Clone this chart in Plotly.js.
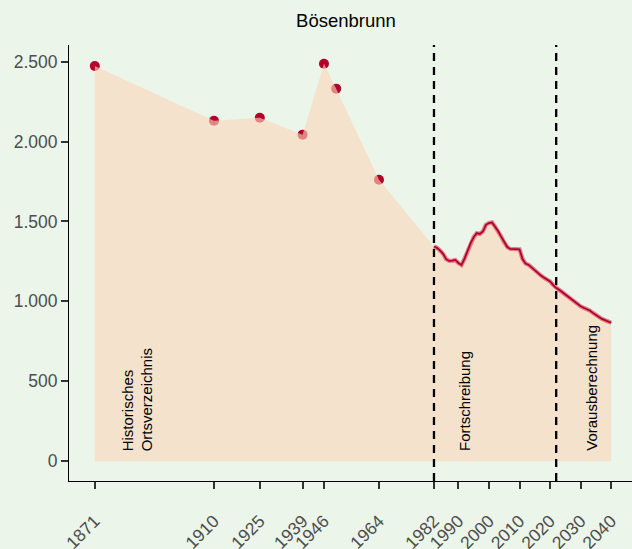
<!DOCTYPE html>
<html>
<head>
<meta charset="utf-8">
<script src="https://cdn.plot.ly/plotly-3.0.1.min.js"></script>
<style>html,body{margin:0;padding:0;overflow:hidden;background:#EBF5EA;}</style>
</head>
<body>
<div id="chart" style="width:640px;height:549px;"></div>
<script>
// Historical census points
const histYears = [1871, 1910, 1925, 1939, 1946, 1950, 1964];
const histValues = [2473, 2130, 2149, 2043, 2487, 2331, 1761];

// Annual series (Fortschreibung + Vorausberechnung)
const lineYears = [1982,1983,1984,1985,1986,1987,1988,1989,1990,1991,1992,1993,1994,1995,1996,1997,1998,1999,2000,2001,2002,2003,2004,2005,2006,2007,2008,2009,2010,2011,2012,2013,2014,2015,2016,2017,2018,2019,2020,2021,2022,2023,2024,2025,2026,2027,2028,2029,2030,2031,2032,2033,2034,2035,2036,2037,2038,2039,2040];
const lineValues = [1343,1335,1318,1297,1264,1253,1255,1259,1240,1228,1268,1318,1364,1402,1427,1422,1437,1479,1490,1494,1468,1440,1405,1368,1340,1328,1327,1327,1326,1265,1236,1228,1210,1190,1178,1162,1148,1136,1125,1103,1083,1072,1057,1042,1027,1011,995,985,969,960,952,943,928,913,902,890,882,874,866];

// Axis ticks
const tickYears = [1871, 1910, 1925, 1939, 1946, 1964, 1982, 1990, 2000, 2010, 2020, 2030, 2040];
const tickLabels = tickYears.map(String);
const yTicks = [0, 500, 1000, 1500, 2000, 2500];

// Period boundaries and labels
const boundaries = [1982, 2022];
const periodLabels = ["Historisches<br>Ortsverzeichnis", "Fortschreibung", "Vorausberechnung"];
const periodLabelX = [1884.8, 1992.2, 2033.7];

const red = '#B3002A';
const font = 'Liberation Sans, Arial, sans-serif';

const traces = [
  {x: histYears, y: histValues, type: 'scatter', mode: 'markers',
   marker: {color: red, size: 10}, hoverinfo: 'skip', showlegend: false},
  {x: histYears.concat(lineYears), y: histValues.concat(lineValues), type: 'scatter', mode: 'lines',
   fill: 'tozeroy', fillcolor: 'rgba(252,215,185,0.62)', line: {width: 0, color: 'rgba(0,0,0,0)'},
   hoverinfo: 'skip', showlegend: false},
  {x: lineYears, y: lineValues, type: 'scatter', mode: 'lines',
   line: {color: 'rgba(205,40,70,0.55)', width: 4.2}, hoverinfo: 'skip', showlegend: false},
  {x: lineYears, y: lineValues, type: 'scatter', mode: 'lines',
   line: {color: red, width: 1.8}, hoverinfo: 'skip', showlegend: false}
];

const shapes = boundaries.map(b => ({
  type: 'line', xref: 'x', yref: 'paper', x0: b, x1: b, y0: 0, y1: 1,
  line: {color: '#000000', width: 2.3, dash: '8px,6px'}
}));

const annotations = periodLabels.map((t, i) => ({
  x: periodLabelX[i], y: 52, xref: 'x', yref: 'y', text: t, textangle: -90,
  showarrow: false, xanchor: 'center', yanchor: 'bottom', align: 'left',
  font: {family: font, size: 15, color: '#000000'}
}));

const layout = {
  width: 640, height: 549,
  margin: {l: 69, r: 3, t: 45, b: 68},
  paper_bgcolor: '#EBF5EA', plot_bgcolor: '#EBF5EA',
  separators: ',.',
  font: {family: font},
  title: {text: 'Bösenbrunn', font: {family: font, size: 18.5, color: '#000000'},
          xref: 'container', x: 346/640, xanchor: 'center', yref: 'container', y: 1 - 21/549, yanchor: 'middle'},
  xaxis: {range: [1862.55, 2048.45], tickmode: 'array', tickvals: tickYears, ticktext: tickLabels,
          tickangle: -45, ticks: 'outside', ticklen: 7, tickwidth: 2, tickcolor: '#333333',
          showline: true, linecolor: '#000000', linewidth: 1, showgrid: false, zeroline: false,
          ticklabelstandoff: 15,
          tickfont: {family: font, size: 17.5, color: '#4D4D4D'}, fixedrange: true},
  yaxis: {range: [-124, 2604], tickmode: 'array', tickvals: yTicks, tickformat: ',d',
          ticks: 'outside', ticklen: 7, tickwidth: 2, tickcolor: '#333333',
          showline: true, linecolor: '#000000', linewidth: 1, showgrid: false, zeroline: false,
          tickfont: {family: font, size: 17.5, color: '#4D4D4D'}, fixedrange: true},
  shapes: shapes,
  annotations: annotations,
  showlegend: false
};

Plotly.newPlot('chart', traces, layout, {displayModeBar: false, staticPlot: true});
</script>
</body>
</html>
